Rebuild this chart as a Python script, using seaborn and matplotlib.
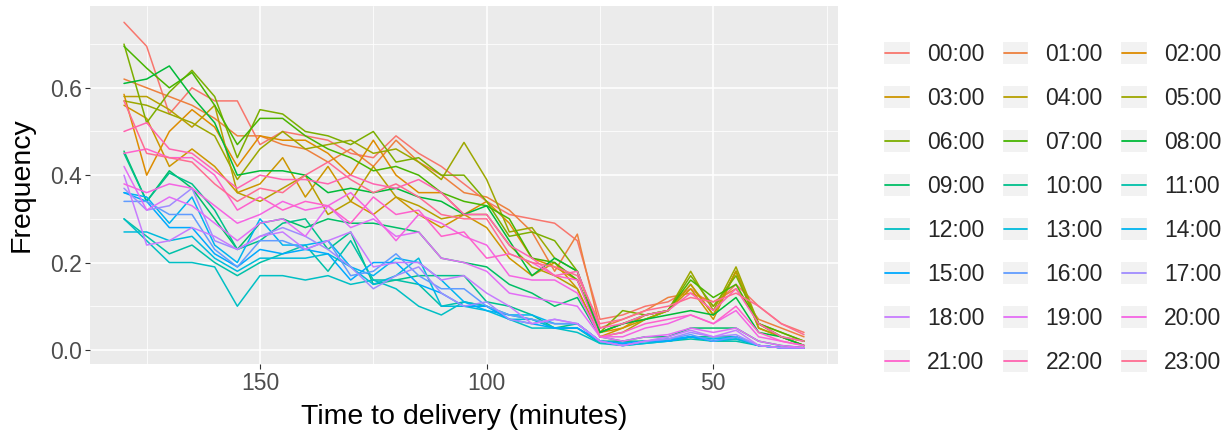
import numpy as np
import pandas as pd
import matplotlib
matplotlib.use("Agg")
import matplotlib.pyplot as plt
import seaborn as sns
from matplotlib.legend_handler import HandlerBase
from matplotlib.lines import Line2D
from matplotlib.patches import Rectangle
from matplotlib.ticker import FixedLocator, FormatStrFormatter

# time to delivery (minutes), one frequency curve per hour of day
minutes = [180, 175, 170, 165, 160, 155, 150, 145, 140, 135, 130, 125, 120, 115, 110, 105,
           100, 95, 90, 85, 80, 75, 70, 65, 60, 55, 50, 45, 40, 35, 30]
hours = [f"{h:02d}:00" for h in range(24)]

h00 = [.75, .695, .54, .60, .57, .57, .47, .50, .49, .48, .45, .44, .49, .45, .42, .38, .34, .31, .30, .29, .25, .07, .08, .10, .11, .14, .10, .15, .10, .06, .04]
h01 = [.62, .60, .58, .56, .53, .49, .49, .47, .46, .43, .46, .42, .48, .43, .40, .36, .35, .32, .27, .18, .265, .05, .07, .09, .12, .13, .11, .14, .07, .05, .03]
h02 = [.585, .40, .50, .55, .51, .42, .49, .48, .48, .45, .40, .48, .40, .36, .36, .31, .34, .29, .21, .19, .16, .04, .05, .08, .09, .15, .08, .18, .06, .04, .02]
h03 = [.56, .53, .42, .46, .42, .36, .38, .44, .35, .42, .34, .31, .35, .31, .28, .31, .28, .21, .17, .20, .14, .03, .05, .07, .09, .14, .07, .18, .05, .03, .01]
h04 = [.58, .58, .55, .51, .56, .36, .34, .37, .40, .31, .34, .42, .35, .33, .30, .31, .31, .24, .19, .17, .14, .03, .04, .07, .09, .15, .08, .18, .05, .03, .01]
h05 = [.57, .56, .54, .52, .49, .39, .46, .50, .46, .47, .48, .45, .46, .43, .39, .475, .39, .27, .28, .21, .18, .04, .06, .07, .09, .18, .09, .19, .06, .03, .02]
h06 = [.70, .52, .59, .64, .58, .44, .55, .54, .50, .49, .47, .50, .43, .44, .40, .40, .34, .26, .27, .25, .18, .04, .09, .08, .09, .17, .10, .17, .06, .03, .01]
h07 = [.695, .645, .60, .635, .56, .47, .53, .53, .49, .46, .44, .41, .42, .40, .36, .34, .33, .30, .21, .20, .16, .04, .06, .08, .09, .16, .12, .15, .06, .04, .02]
h08 = [.61, .62, .65, .58, .52, .40, .41, .41, .40, .36, .37, .36, .37, .35, .34, .31, .33, .25, .17, .21, .18, .04, .06, .07, .08, .09, .08, .12, .04, .03, .01]
h09 = [.455, .34, .41, .37, .30, .23, .29, .30, .28, .30, .29, .29, .28, .27, .21, .20, .19, .15, .13, .10, .12, .03, .02, .03, .03, .05, .05, .05, .02, .01, .005]
h10 = [.45, .34, .405, .38, .32, .23, .25, .29, .30, .23, .27, .15, .16, .17, .17, .17, .11, .10, .08, .05, .06, .02, .02, .02, .02, .03, .03, .03, .01, .005, .005]
h11 = [.30, .26, .22, .24, .20, .17, .20, .22, .24, .18, .25, .16, .16, .15, .10, .11, .10, .08, .07, .05, .05, .015, .015, .02, .02, .025, .02, .02, .01, .005, .005]
h12 = [.30, .25, .20, .20, .19, .10, .17, .17, .16, .17, .15, .16, .14, .10, .08, .11, .10, .07, .05, .05, .04, .015, .01, .015, .02, .03, .02, .025, .01, .005, .005]
h13 = [.27, .27, .25, .26, .21, .18, .21, .21, .21, .22, .19, .15, .17, .21, .10, .10, .09, .07, .07, .05, .05, .02, .01, .015, .02, .03, .02, .025, .01, .005, .005]
h14 = [.36, .35, .29, .35, .24, .20, .30, .24, .24, .25, .19, .17, .21, .20, .16, .11, .09, .08, .08, .06, .06, .02, .015, .02, .025, .03, .025, .03, .01, .005, .005]
h15 = [.36, .34, .28, .28, .22, .19, .23, .22, .23, .22, .16, .20, .20, .15, .13, .10, .10, .07, .06, .05, .05, .02, .015, .02, .02, .03, .02, .03, .01, .005, .005]
h16 = [.34, .34, .31, .31, .23, .19, .25, .25, .23, .25, .17, .18, .22, .17, .14, .14, .10, .08, .07, .06, .06, .02, .01, .02, .025, .035, .02, .03, .01, .005, .005]
h17 = [.37, .32, .33, .37, .25, .23, .26, .28, .26, .23, .19, .14, .17, .19, .13, .10, .11, .07, .06, .07, .06, .02, .01, .02, .025, .04, .03, .035, .01, .005, .005]
h18 = [.40, .24, .25, .28, .26, .23, .26, .27, .23, .25, .27, .19, .20, .20, .16, .17, .13, .10, .06, .07, .06, .02, .01, .02, .03, .045, .03, .045, .01, .005, .005]
h19 = [.42, .32, .35, .33, .29, .25, .29, .30, .26, .33, .28, .30, .26, .27, .21, .20, .18, .13, .12, .11, .10, .03, .02, .03, .035, .05, .04, .05, .02, .01, .005]
h20 = [.38, .36, .38, .37, .33, .29, .31, .34, .32, .33, .36, .31, .25, .31, .29, .26, .24, .17, .16, .16, .13, .03, .03, .05, .06, .08, .06, .09, .03, .02, .01]
h21 = [.45, .46, .44, .44, .40, .32, .35, .32, .34, .33, .29, .35, .31, .32, .26, .27, .21, .22, .20, .17, .16, .03, .04, .06, .07, .08, .06, .10, .04, .02, .01]
h22 = [.50, .52, .46, .45, .41, .37, .40, .39, .39, .38, .40, .38, .37, .39, .36, .31, .31, .24, .21, .17, .18, .05, .06, .08, .09, .13, .09, .14, .06, .03, .02]
h23 = [.57, .45, .44, .43, .38, .34, .37, .36, .40, .43, .39, .36, .38, .35, .31, .30, .30, .22, .20, .19, .17, .06, .07, .09, .10, .12, .11, .13, .10, .06, .035]

series = [h00, h01, h02, h03, h04, h05, h06, h07, h08, h09, h10, h11,
          h12, h13, h14, h15, h16, h17, h18, h19, h20, h21, h22, h23]


def hcl_hex(h, c=100, l=65):
    # polar LUV -> sRGB, same as R's hcl()
    xn, yn, zn = 95.047, 100.0, 108.883
    hr = np.deg2rad(h)
    u, v = c * np.cos(hr), c * np.sin(hr)
    y = yn * ((l + 16) / 116) ** 3
    un = 4 * xn / (xn + 15 * yn + 3 * zn)
    vn = 9 * yn / (xn + 15 * yn + 3 * zn)
    up = u / (13 * l) + un
    vp = v / (13 * l) + vn
    x = 9 * y * up / (4 * vp)
    z = -x / 3 - 5 * y + 3 * y / vp
    m = np.array([[3.240479, -1.537150, -0.498535],
                  [-0.969256, 1.875992, 0.041556],
                  [0.055648, -0.204043, 1.057311]])
    rgb = m @ (np.array([x, y, z]) / 100)
    rgb = np.where(rgb > 0.00304, 1.055 * np.clip(rgb, 0, None) ** (1 / 2.4) - 0.055, 12.92 * rgb)
    rgb = np.clip(rgb, 0, 1)
    return "#%02X%02X%02X" % tuple(int(round(k * 255)) for k in rgb)


palette = [hcl_hex(15 + 15 * i) for i in range(24)]

df = pd.DataFrame({
    "minutes": np.tile(minutes, len(hours)),
    "frequency": np.concatenate(series),
    "hour": np.repeat(hours, len(minutes)),
})

sns.set_theme(style="darkgrid", rc={
    "axes.facecolor": "#EBEBEB",
    "grid.color": "white",
    "axes.edgecolor": "#EBEBEB",
})
plt.rcParams["font.family"] = ["Liberation Sans", "DejaVu Sans"]

fig = plt.figure(figsize=(12.3, 4.38), dpi=100)
ax = fig.add_axes([90 / 1230, 1 - 364 / 438, (838 - 90) / 1230, (364 - 6) / 438])

sns.lineplot(data=df, x="minutes", y="frequency", hue="hour", hue_order=hours,
             palette=palette, linewidth=1.1, legend=False, ax=ax)

# ggplot-like expansion, reversed x
xlo, xhi = min(minutes), max(minutes)
ylo, yhi = df["frequency"].min(), df["frequency"].max()
ax.set_xlim(xhi + 0.05 * (xhi - xlo), xlo - 0.05 * (xhi - xlo))
ax.set_ylim(ylo - 0.05 * (yhi - ylo), yhi + 0.05 * (yhi - ylo))

ax.xaxis.set_major_locator(FixedLocator([150, 100, 50]))
ax.xaxis.set_minor_locator(FixedLocator([175, 125, 75, 25]))
ax.yaxis.set_major_locator(FixedLocator([0, 0.2, 0.4, 0.6]))
ax.yaxis.set_minor_locator(FixedLocator([0.1, 0.3, 0.5, 0.7]))
ax.yaxis.set_major_formatter(FormatStrFormatter("%.1f"))
ax.grid(which="major", color="white", linewidth=1.1)
ax.grid(which="minor", color="white", linewidth=0.55)
ax.set_axisbelow(True)
for s in ax.spines.values():
    s.set_visible(False)
ax.tick_params(which="major", length=3.5, width=0.8, color="#333333", labelsize=16.5,
               labelcolor="#4D4D4D", pad=2.5, bottom=True, left=True)
ax.tick_params(which="minor", length=0)

ax.set_xlabel("Time to delivery (minutes)", fontsize=20.5, color="black", labelpad=6)
ax.set_ylabel("Frequency", fontsize=20.5, color="black", labelpad=11)


class KeyHandler(HandlerBase):
    def create_artists(self, legend, orig_handle, xdescent, ydescent, width, height, fontsize, trans):
        bg = Rectangle((-xdescent, -ydescent), width, height, facecolor="#F2F2F2",
                       edgecolor="none", transform=trans)
        yc = -ydescent + height / 2
        ln = Line2D([-xdescent + 0.05 * width, -xdescent + 0.95 * width], [yc, yc],
                    color=orig_handle.get_color(), lw=1.3, transform=trans)
        return [bg, ln]


handles = [Line2D([], [], color=c) for c in palette]
# ggplot fills the legend by row; matplotlib by column
order = [r * 3 + c for c in range(3) for r in range(8)]
leg = fig.legend([handles[i] for i in order], [hours[i] for i in order],
                 ncol=3, loc="upper left", bbox_to_anchor=(884 / 1230, 1 - 42 / 438),
                 frameon=False, fontsize=16.5, borderpad=0, borderaxespad=0,
                 handlelength=1.13, handleheight=1.13, handletextpad=0.74,
                 columnspacing=0.8, labelspacing=0.87,
                 handler_map={Line2D: KeyHandler()})

fig.savefig("out.png", dpi=100)
